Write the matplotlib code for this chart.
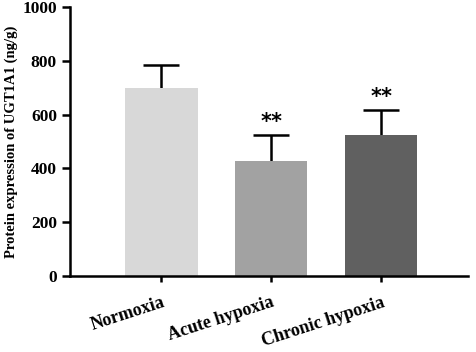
import matplotlib.pyplot as plt

groups = ['Normoxia', 'Acute hypoxia', 'Chronic hypoxia']
means = [700, 426, 525]
sd = [85, 99, 92]
colors = ['#d8d8d8', '#a2a2a2', '#606060']
marks = ['', '**', '**']

plt.rcParams['font.family'] = 'Liberation Serif'
plt.rcParams['font.weight'] = 'bold'

fig = plt.figure(figsize=(4.77, 3.52), dpi=100)
ax = fig.add_axes([0.147, 0.216, 0.834, 0.764])

x = list(range(len(groups)))
ax.bar(x, means, width=0.66, color=colors, zorder=2)
# upper error bars only: stem plus cap
tops = [m + s for m, s in zip(means, sd)]
ax.vlines(x, means, tops, color='black', linewidth=1.8, zorder=1)
ax.hlines(tops, [i - 0.165 for i in x], [i + 0.165 for i in x],
          color='black', linewidth=1.8, zorder=1)

for i in x:
    if marks[i]:
        ax.text(i, tops[i] + 10, marks[i], ha='center', va='bottom',
                fontsize=15, family='DejaVu Sans', fontweight='bold')

ax.set_xlim(-0.83, 2.79)
ax.set_ylim(0, 1000)
ax.set_yticks([0, 200, 400, 600, 800, 1000])
ax.set_xticks(x)
ax.set_xticklabels(groups, rotation=18, ha='right', rotation_mode='anchor',
                   fontsize=13, fontweight='bold')
ax.tick_params(axis='y', labelsize=12.5, length=6, width=1.8)
ax.tick_params(axis='x', length=4, width=1.8, pad=9)
for lbl in ax.get_yticklabels():
    lbl.set_fontweight('bold')

ax.set_ylabel('Protein expression of UGT1A1 (ng/g)', fontsize=10.5,
              fontweight='bold', labelpad=3)

for s in ['top', 'right']:
    ax.spines[s].set_visible(False)
for s in ['left', 'bottom']:
    ax.spines[s].set_linewidth(1.8)

fig.savefig('out.png', dpi=100)
